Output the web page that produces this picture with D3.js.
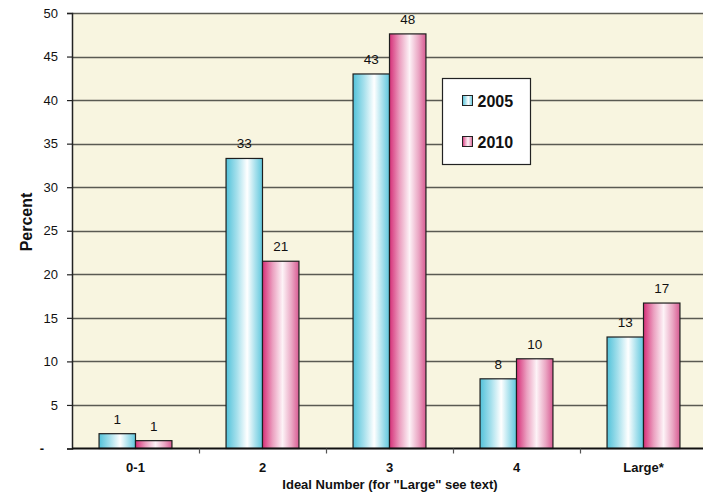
<!DOCTYPE html>
<html>
<head>
<meta charset="utf-8">
<script src="https://cdn.jsdelivr.net/npm/d3@7"></script>
<style>
  html, body { margin: 0; padding: 0; background: #fff; }
  svg { display: block; font-family: "Liberation Sans", Arial, sans-serif; }
</style>
</head>
<body>
<svg id="chart" width="703" height="496"></svg>
<script>
// Ideal number of children, share of respondents (%)
const categories = ["0-1", "2", "3", "4", "Large*"];
const seriesNames = ["2005", "2010"];
const values2005 = [1.7, 33.3, 43.0, 8.0, 12.8];
const values2010 = [0.9, 21.5, 47.6, 10.3, 16.7];
const labels2005 = ["1", "33", "43", "8", "13"];
const labels2010 = ["1", "21", "48", "10", "17"];
const yTicks = [0, 5, 10, 15, 20, 25, 30, 35, 40, 45, 50];

const svg = d3.select("#chart");
const margin = { left: 72, top: 13, right: -4, bottom: 48 };
const W = 703, H = 496;
const x0 = margin.left, x1 = W - margin.right;
const yTop = margin.top, yBot = H - margin.bottom;

const x = d3.scaleBand().domain(categories).range([x0, x1]).paddingInner(0).paddingOuter(0);
const y = d3.scaleLinear().domain([0, 50]).range([yBot + 0.5, yTop]);

// gradients
const defs = svg.append("defs");
function grad(id, stops) {
  const g = defs.append("linearGradient").attr("id", id)
    .attr("x1", "0%").attr("x2", "100%").attr("y1", "0%").attr("y2", "0%");
  stops.forEach(s => g.append("stop").attr("offset", s[0]).attr("stop-color", s[1]));
}
grad("g2005", [["0%", "#52c2da"], ["30%", "#a6e0ec"], ["58%", "#ffffff"], ["80%", "#a9e1ed"], ["100%", "#5fc7dd"]]);
grad("g2010", [["0%", "#d62f78"], ["28%", "#eba0c0"], ["55%", "#fdf3f7"], ["80%", "#eaa6c3"], ["100%", "#d85a92"]]);
const fills = { "2005": "url(#g2005)", "2010": "url(#g2010)" };

// plot background
svg.append("rect").attr("x", x0).attr("y", yTop).attr("width", x1 - x0).attr("height", yBot - yTop)
  .attr("fill", "#f8f5e0");

// gridlines
svg.append("g").selectAll("line").data(yTicks.filter(d => d > 0)).join("line")
  .attr("x1", x0).attr("x2", x1)
  .attr("y1", d => Math.round(y(d)) + 0.5).attr("y2", d => Math.round(y(d)) + 0.5)
  .attr("stroke", "#5a5a52").attr("stroke-width", 1.5);

// y axis
const yAxis = d3.axisLeft(y).tickValues(yTicks).tickSize(5).tickPadding(9)
  .tickFormat(d => d === 0 ? "-" : d);
const gy = svg.append("g").attr("transform", `translate(${x0},0)`).call(yAxis);
gy.select(".domain").attr("stroke", "#222").attr("stroke-width", 1.5);
gy.selectAll(".tick line").attr("stroke", "#222").attr("stroke-width", 1.2);
gy.selectAll(".tick text").attr("font-size", 13).attr("fill", "#111")
  .attr("font-family", "Liberation Sans, Arial, sans-serif");
gy.selectAll(".tick").filter(d => d === 0).select("text")
  .attr("font-weight", "bold").attr("dx", -14);

// bars
const bandW = x.bandwidth();
const barW = bandW * 0.287;
const groups = svg.append("g").selectAll("g").data(categories).join("g")
  .attr("transform", d => `translate(${x(d) + bandW / 2},0)`);
const barData = (c, i) => [
  { s: "2005", v: values2005[i], l: labels2005[i], off: -barW },
  { s: "2010", v: values2010[i], l: labels2010[i], off: 0 }
];
groups.each(function (c, i) {
  const g = d3.select(this);
  const bd = barData(c, i);
  g.selectAll("rect").data(bd).join("rect")
    .attr("x", d => d.off).attr("width", barW)
    .attr("y", d => y(d.v)).attr("height", d => y(0) - y(d.v))
    .attr("fill", d => fills[d.s]).attr("stroke", "#1e1e1e").attr("stroke-width", 1.2);
  g.selectAll("text").data(bd).join("text")
    .attr("x", d => d.off + barW / 2).attr("y", d => y(d.v) - 10)
    .attr("text-anchor", "middle").attr("font-size", 13.5).attr("fill", "#111")
    .text(d => d.l);
});

// x axis
const xAxis = d3.axisBottom(x).tickSize(0).tickPadding(14);
const gx = svg.append("g").attr("transform", `translate(0,${yBot + 0.5})`).call(xAxis);
gx.select(".domain").remove();
gx.selectAll(".tick text").attr("font-size", 13).attr("font-weight", "bold").attr("fill", "#111")
  .attr("font-family", "Liberation Sans, Arial, sans-serif");
svg.append("line").attr("x1", x0).attr("x2", x1).attr("y1", y(0)).attr("y2", y(0))
  .attr("stroke", "#111").attr("stroke-width", 2);
svg.append("g").selectAll("line").data(categories.slice(1)).join("line")
  .attr("x1", d => x(d) + 0.5).attr("x2", d => x(d) + 0.5)
  .attr("y1", y(0)).attr("y2", y(0) + 5)
  .attr("stroke", "#555").attr("stroke-width", 1.2);

// axis titles
svg.append("text").attr("x", 390).attr("y", 489)
  .attr("text-anchor", "middle").attr("font-size", 13).attr("font-weight", "bold").attr("fill", "#111")
  .text('Ideal Number (for "Large" see text)');
svg.append("text").attr("transform", "translate(32,222) rotate(-90)")
  .attr("text-anchor", "middle").attr("font-size", 16).attr("font-weight", "bold").attr("fill", "#111")
  .text("Percent");

// legend
const lg = svg.append("g").attr("transform", "translate(442.5,78.5)");
lg.append("rect").attr("width", 88).attr("height", 86).attr("fill", "#fff")
  .attr("stroke", "#222").attr("stroke-width", 1.2);
seriesNames.forEach((s, i) => {
  const yy = 22 + i * 41;
  lg.append("rect").attr("x", 20).attr("y", yy - 5).attr("width", 10).attr("height", 10)
    .attr("fill", fills[s]).attr("stroke", "#222").attr("stroke-width", 1);
  lg.append("text").attr("x", 35).attr("y", yy + 6).attr("font-size", 16).attr("font-weight", "bold")
    .attr("fill", "#111").text(s);
});
</script>
</body>
</html>
